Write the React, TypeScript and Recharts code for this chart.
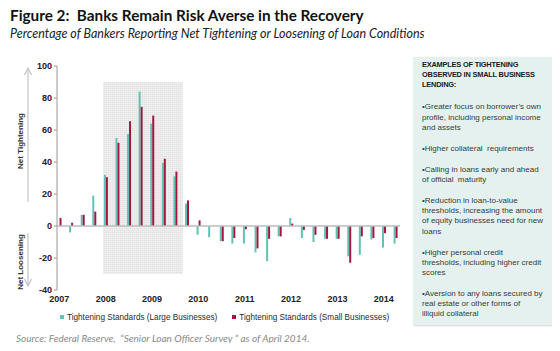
import React from "react";
import {
  BarChart,
  Bar,
  XAxis,
  YAxis,
  Legend,
  ReferenceLine,
  ReferenceArea,
} from "recharts";

// quarterly survey readings, 2007 Q1 .. 2014 Q2
const quarters = [
  "2007Q1", "2007Q2", "2007Q3", "2007Q4",
  "2008Q1", "2008Q2", "2008Q3", "2008Q4",
  "2009Q1", "2009Q2", "2009Q3", "2009Q4",
  "2010Q1", "2010Q2", "2010Q3", "2010Q4",
  "2011Q1", "2011Q2", "2011Q3", "2011Q4",
  "2012Q1", "2012Q2", "2012Q3", "2012Q4",
  "2013Q1", "2013Q2", "2013Q3", "2013Q4",
  "2014Q1", "2014Q2",
];
const largeBusinesses = [
  0, -4, 7, 19, 32, 55, 57.5, 84, 64, 39.5, 31, 14, -5.5, -7, -9.5, -11, -11,
  -16.5, -22, -6.5, 5, -7.5, -10, -8, -8, -19, -18, -8.5, -13.5, -11,
];
const smallBusinesses = [
  5, 2, 7, 9, 30.5, 52, 65.5, 74.5, 69, 42, 34, 16, 3.5, 0, -9.5, -7.5, -2, -14,
  -8, -6.5, 1.5, -2.5, -5.5, -8, -8, -23, -6.5, -7.5, -4.5, -7.5,
];
const yearLabels = ["2007", "2008", "2009", "2010", "2011", "2012", "2013", "2014"];
const yTicks = [-40, -20, 0, 20, 40, 60, 80, 100];
// shaded recession window (in quarter index units)
const recessionStart = 3.77;
const recessionEnd = 10.66;

const bullets = [
  ["•Greater focus on borrower’s own", "profile, including personal income", "and assets"],
  ["•Higher collateral  requirements"],
  ["•Calling in loans early and ahead", "of official  maturity"],
  ["•Reduction in loan-to-value", "thresholds, increasing the amount", "of equity businesses need for new", "loans"],
  ["•Higher personal credit", "thresholds, including higher credit", "scores"],
  ["•Aversion to any loans secured by", "real estate or other forms of", "illiquid collateral"],
];

const TEAL = "#62c3b5";
const CRIMSON = "#a3173f";

const data = quarters.map((q, i) => ({
  idx: i,
  quarter: q,
  large: largeBusinesses[i],
  small: smallBusinesses[i],
}));

const renderLegend = () => (
  <div
    style={{
      display: "flex",
      alignItems: "center",
      height: 14,
      paddingLeft: 60,
      fontFamily: "'Liberation Sans', Arial, sans-serif",
      fontSize: 8.2,
      color: "#2a2a2a",
      whiteSpace: "nowrap",
    }}
  >
    <span style={{ width: 4, height: 4, background: TEAL, marginRight: 3 }} />
    <span>Tightening Standards (Large Businesses)</span>
    <span style={{ width: 4, height: 4, background: CRIMSON, marginLeft: 15, marginRight: 3 }} />
    <span>Tightening Standards (Small Businesses)</span>
  </div>
);

export default function App() {
  return (
    <div
      style={{
        position: "relative",
        width: 560,
        height: 351,
        margin: -8,
        background: "#fff",
        overflow: "hidden",
      }}
    >
      <div
        style={{
          position: "absolute",
          left: 10,
          top: 7,
          fontFamily: "Lato, sans-serif",
          fontWeight: 700,
          fontSize: 15.3,
          lineHeight: "16px",
          color: "#111",
          whiteSpace: "pre",
        }}
      >
        {"Figure 2:  Banks Remain Risk Averse in the Recovery"}
      </div>
      <div
        style={{
          position: "absolute",
          left: 10,
          top: 27,
          fontFamily: "Lato, sans-serif",
          fontStyle: "italic",
          fontSize: 12.5,
          lineHeight: "13px",
          color: "#222",
          whiteSpace: "pre",
        }}
      >
        Percentage of Bankers Reporting Net Tightening or Loosening of Loan Conditions
      </div>

      <div style={{ position: "absolute", left: 0, top: 0 }}>
        <BarChart
          width={410}
          height={351}
          data={data}
          margin={{ top: 66, right: 10, bottom: 27, left: 0 }}
          barGap={0}
          barSize={2}
        >
          <defs>
            <pattern id="dots" width="2" height="2" patternUnits="userSpaceOnUse">
              <rect width="2" height="2" fill="#ededed" />
              <rect width="1" height="1" fill="#e0e0e0" />
            </pattern>
          </defs>
          <XAxis
            dataKey="idx"
            type="number"
            domain={[-0.2, 29.4]}
            allowDataOverflow
            ticks={[0, 4, 8, 12, 16, 20, 24, 28]}
            tickFormatter={(v: number) => yearLabels[v / 4]}
            axisLine={false}
            tickLine={false}
            tickSize={4}
            tickMargin={2}
            height={20}
            tick={{ fontSize: 9, fontWeight: 700, fill: "#222", fontFamily: "'Liberation Sans', Arial" }}
          />
          <YAxis
            domain={[-40, 100]}
            ticks={yTicks}
            width={57}
            stroke="#9a9a9a"
            tickSize={3}
            tickMargin={2}
            tick={{ fontSize: 9, fontWeight: 700, fill: "#222", fontFamily: "'Liberation Sans', Arial" }}
          />
          <ReferenceArea
            x1={recessionStart}
            x2={recessionEnd}
            y1={-30}
            y2={90}
            fill="url(#dots)"
            fillOpacity={1}
            stroke="none"
          />
          <ReferenceLine y={0} stroke="#bdbdbd" strokeWidth={1.5} />
          <Legend verticalAlign="bottom" height={14} content={renderLegend} />
          <Bar dataKey="large" name="Tightening Standards (Large Businesses)" fill={TEAL} isAnimationActive={false} />
          <Bar dataKey="small" name="Tightening Standards (Small Businesses)" fill={CRIMSON} isAnimationActive={false} />
        </BarChart>
      </div>

      <svg
        width={60}
        height={300}
        style={{ position: "absolute", left: 0, top: 0, pointerEvents: "none" }}
      >
        <g stroke="#c4c4c4" strokeWidth={1.2} fill="none">
          <line x1={28} y1={202} x2={28} y2={69} />
          <polyline points="24.5,75 28,68 31.5,75" />
          <line x1={28} y1={233} x2={28} y2={285} />
          <polyline points="24.5,279 28,286 31.5,279" />
        </g>
        <text
          transform="translate(20,141) rotate(-90)"
          textAnchor="middle"
          dominantBaseline="central"
          fontFamily="'Liberation Sans', Arial"
          fontSize={8}
          fontWeight={700}
          fill="#333"
        >
          Net Tightening
        </text>
        <text
          transform="translate(20,262) rotate(-90)"
          textAnchor="middle"
          dominantBaseline="central"
          fontFamily="'Liberation Sans', Arial"
          fontSize={8}
          fontWeight={700}
          fill="#333"
        >
          Net Loosening
        </text>
      </svg>

      <div
        style={{
          position: "absolute",
          left: 413,
          top: 57,
          width: 142,
          height: 268,
          boxSizing: "border-box",
          background: "#e4f1ee",
          boxShadow: "1px 1px 2px rgba(0,0,0,0.18)",
          padding: "3px 0 0 9px",
          fontFamily: "'Liberation Sans', Arial, sans-serif",
          whiteSpace: "nowrap",
        }}
      >
        <div style={{ fontSize: 7.4, fontWeight: 700, lineHeight: "10px", color: "#1a1a1a", letterSpacing: -0.2 }}>
          <div>EXAMPLES OF TIGHTENING</div>
          <div>OBSERVED IN SMALL BUSINESS</div>
          <div>LENDING:</div>
        </div>
        {bullets.map((lines, i) => (
          <div
            key={i}
            style={{
              marginTop: i === 0 ? 12.4 : 10.8,
              fontSize: 8,
              lineHeight: "10.2px",
              color: "#3a3a3a",
            }}
          >
            {lines.map((l, j) => (
              <div key={j} style={{ whiteSpace: "pre" }}>{l}</div>
            ))}
          </div>
        ))}
      </div>

      <div
        style={{
          position: "absolute",
          left: 16,
          top: 332,
          fontFamily: "Lato, sans-serif",
          fontStyle: "italic",
          fontSize: 10,
          lineHeight: "12px",
          color: "#8a8a8a",
          whiteSpace: "pre",
        }}
      >
        {"Source: Federal Reserve,  “Senior Loan Officer Survey ” as of April 2014."}
      </div>
    </div>
  );
}
